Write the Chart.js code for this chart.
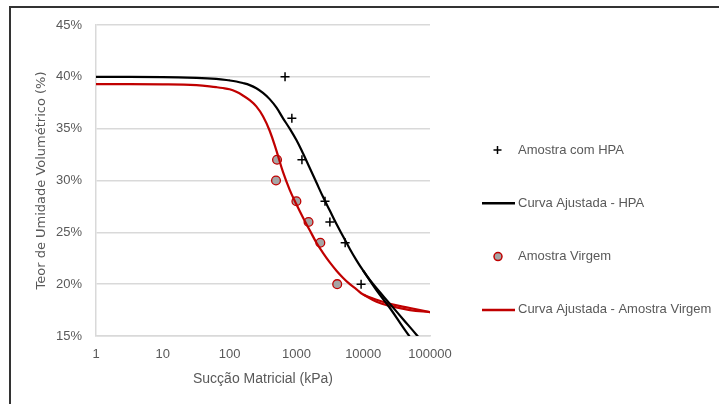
<!DOCTYPE html>
<html>
<head>
<meta charset="utf-8">
<script src="https://cdn.jsdelivr.net/npm/chart.js@4"></script>
<style>
  body { margin: 0; background: #fff; }
  #wrap { position: relative; width: 719px; height: 404px; overflow: hidden; }
  #frame { position: absolute; left: 9px; top: 6px; width: 760px; height: 450px;
           border-left: 2px solid #333; border-top: 2px solid #333; pointer-events: none; }
</style>
</head>
<body>
<div id="wrap">
  <canvas id="myChart" width="719" height="404"></canvas>
  <div id="frame"></div>
</div>
<script>
// measured points
var hpaSuccao = [676, 855, 1210, 2680, 3170, 5370, 9300];
var hpaTeor   = [40, 36, 32, 28, 26, 24, 20];
var virgemSuccao = [513, 495, 1000, 1520, 2280, 4080];
var virgemTeor   = [32, 30, 28, 26, 24, 20];

// fitted curves
var curvaHpaX = [1, 10, 32, 63, 100, 126, 158, 200, 251, 316, 398, 501, 631, 794, 1000, 1259, 1585, 1995, 2512, 3162, 3981, 5012, 6310, 7943, 10000, 12589, 15849, 25119, 39811, 63096, 79433];
var curvaHpaY = [40.0, 39.98, 39.9, 39.8, 39.65, 39.55, 39.4, 39.2, 38.9, 38.45, 37.85, 37.05, 36.0, 35.0, 33.9, 32.6, 31.2, 29.8, 28.4, 27.1, 25.8, 24.6, 23.4, 22.3, 21.3, 20.4, 19.6, 18.1, 16.6, 15.1, 14.3];
var curvaHpa2X = [10000, 15849, 25119, 39811, 50119, 63096];
var curvaHpa2Y = [21.3, 19.4, 17.7, 15.8, 14.9, 13.9];

var curvaVirgemX = [1, 10, 32, 63, 79, 100, 126, 158, 200, 251, 316, 398, 501, 631, 794, 1000, 1259, 1585, 1995, 2512, 3162, 3981, 5012, 6310, 7943, 10000, 15849, 25119, 50119, 100000];
var curvaVirgemY = [39.3, 39.28, 39.2, 39.0, 38.92, 38.8, 38.55, 38.2, 37.75, 37.15, 36.2, 34.8, 32.9, 30.8, 29.1, 27.7, 26.4, 25.2, 24.0, 23.0, 22.1, 21.3, 20.6, 20.0, 19.5, 19.0, 18.5, 18.1, 17.7, 17.3];
var curvaVirgem2X = [10000, 15849, 25119, 50119, 100000];
var curvaVirgem2Y = [19.0, 18.3, 17.9, 17.5, 17.3];

var yTicks = [15, 20, 25, 30, 35, 40, 45];

function pts(xs, ys) {
  return xs.map(function (x, i) { return { x: x, y: ys[i] }; });
}

var legendItems = [
  { text: 'Amostra com HPA', kind: 'cross' },
  { text: 'Curva Ajustada - HPA', kind: 'line', color: '#000000' },
  { text: 'Amostra Virgem', kind: 'circle' },
  { text: 'Curva Ajustada - Amostra Virgem', kind: 'line', color: '#c00000' }
];

var sideLegend = {
  id: 'sideLegend',
  afterDraw: function (chart) {
    var ctx = chart.ctx;
    ctx.save();
    ctx.font = '13px "Liberation Sans", Arial, sans-serif';
    ctx.textBaseline = 'middle';
    legendItems.forEach(function (it, i) {
      var y = 150 + i * 53.3;
      if (it.kind === 'cross') {
        ctx.strokeStyle = '#000'; ctx.lineWidth = 1.5;
        ctx.beginPath();
        ctx.moveTo(493.5, y); ctx.lineTo(501.5, y);
        ctx.moveTo(497.5, y - 4); ctx.lineTo(497.5, y + 4);
        ctx.stroke();
      } else if (it.kind === 'circle') {
        ctx.fillStyle = '#a5a5a5'; ctx.strokeStyle = '#c00000'; ctx.lineWidth = 1.5;
        ctx.beginPath(); ctx.arc(498, y, 4, 0, Math.PI * 2); ctx.fill(); ctx.stroke();
      } else {
        ctx.strokeStyle = it.color; ctx.lineWidth = 2.5;
        ctx.beginPath(); ctx.moveTo(482, y); ctx.lineTo(515, y); ctx.stroke();
      }
      ctx.fillStyle = '#595959';
      ctx.fillText(it.text, 518, y);
    });
    ctx.restore();
  }
};

function curve(label, xs, ys, color) {
  return {
    label: label,
    data: pts(xs, ys),
    showLine: true, borderColor: color, borderWidth: 2.2,
    pointRadius: 0, tension: 0.4
  };
}

var myChart = document.getElementById('myChart').getContext('2d');
var chart = new Chart(myChart, {
  type: 'scatter',
  data: {
    datasets: [
      curve('Curva Ajustada - HPA', curvaHpaX, curvaHpaY, '#000000'),
      curve('hpa2', curvaHpa2X, curvaHpa2Y, '#000000'),
      curve('Curva Ajustada - Amostra Virgem', curvaVirgemX, curvaVirgemY, '#c00000'),
      curve('virgem2', curvaVirgem2X, curvaVirgem2Y, '#c00000'),
      {
        label: 'Amostra com HPA',
        data: pts(hpaSuccao, hpaTeor),
        pointStyle: 'cross', pointRadius: 4.5, borderColor: '#000000', borderWidth: 1.5
      },
      {
        label: 'Amostra Virgem',
        data: pts(virgemSuccao, virgemTeor),
        pointStyle: 'circle', pointRadius: 4.4,
        backgroundColor: '#a5a5a5', borderColor: '#c00000', borderWidth: 1.3
      }
    ]
  },
  options: {
    responsive: false,
    animation: false,
    layout: { padding: { left: 20, right: 289, top: 25, bottom: 0 } },
    plugins: {
      legend: { display: false },
      tooltip: { enabled: false }
    },
    scales: {
      x: {
        type: 'logarithmic',
        min: 1, max: 100000,
        afterFit: function (s) { s.height = 68; },
        grid: { display: false, drawTicks: false },
        border: { display: true, color: '#d9d9d9', width: 1.5 },
        ticks: {
          padding: 11, color: '#595959', maxRotation: 0, autoSkip: false,
          font: { family: '"Liberation Sans", Arial, sans-serif', size: 13 },
          callback: function (v) {
            var l = Math.log10(v);
            return Math.abs(l - Math.round(l)) < 1e-9 ? String(v) : null;
          }
        },
        title: {
          display: true, text: 'Sucção Matricial (kPa)', color: '#595959',
          font: { family: '"Liberation Sans", Arial, sans-serif', size: 14 },
          padding: { top: 0, bottom: 16 }
        }
      },
      y: {
        min: 15, max: 45,
        afterFit: function (s) { s.width = 76; },
        afterBuildTicks: function (s) { s.ticks = yTicks.map(function (v) { return { value: v }; }); },
        grid: { color: '#d9d9d9', lineWidth: 1.5, drawTicks: false },
        border: { display: true, color: '#d9d9d9', width: 1.5 },
        ticks: {
          padding: 14, color: '#595959',
          font: { family: '"Liberation Sans", Arial, sans-serif', size: 13 },
          callback: function (v) { return v + '%'; }
        },
        title: {
          display: true, text: 'Teor de Umidade Volumétrico (%)', color: '#595959',
          font: { family: '"DejaVu Sans", sans-serif', size: 13 },
          padding: { top: 14, bottom: 0 }
        }
      }
    }
  },
  plugins: [sideLegend]
});
</script>
</body>
</html>
